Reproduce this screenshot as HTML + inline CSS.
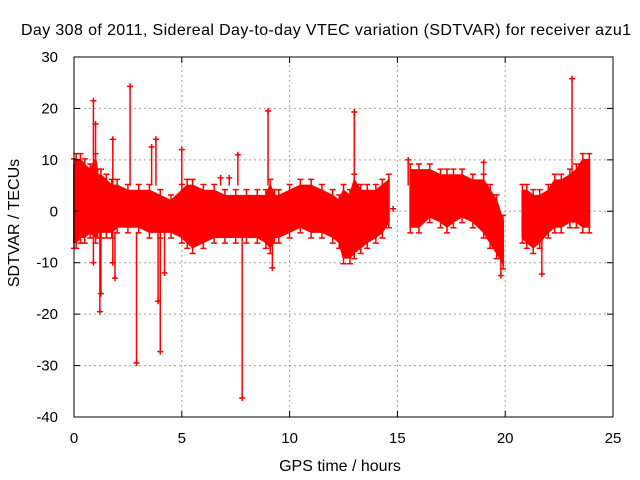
<!DOCTYPE html>
<html><head><meta charset="utf-8"><style>
html,body{margin:0;padding:0;background:#fff;}
svg{display:block;font-family:"Liberation Sans",sans-serif;}
</style></head><body>
<svg id="chart" width="640" height="480">
<text x="326" y="35" font-size="16" text-anchor="middle" textLength="610">Day 308 of 2011, Sidereal Day-to-day VTEC variation (SDTVAR) for receiver azu1</text>
<g id="grid"></g><g id="data"></g><g id="axes"></g>
<text x="340" y="471" font-size="16" text-anchor="middle">GPS time / hours</text>
<text transform="translate(19,223) rotate(-90)" font-size="16" text-anchor="middle">SDTVAR / TECUs</text>
</svg>
<script>
const times=[0,0.1,0.3,0.5,0.75,1.0,1.1,1.25,1.5,1.75,2,2.5,3,3.5,4,4.5,5,5.25,5.5,6,6.5,7,7.5,8,8.5,8.9,9.1,9.3,9.5,10,10.5,11,11.5,12,12.3,12.5,12.8,13,13.3,13.6,14,14.3,14.6,null,15.6,16,16.5,17,17.3,17.6,18,18.5,19,19.3,19.6,19.9,null,20.8,21,21.3,21.6,22,22.3,22.6,23,23.3,23.6,23.9];
const upper=[9,10,10,9,8,10,7,7,6,5,5,4,4,4,3,2,4,5,5,4,4,3,3,3,3,3,5,3,3,4,5,5,4,3,2,4,3,6,4,4,4,5,6,null,8,8,8,7,7,7,7,6,6,4,2,-2,null,4,4,3,3,4,6,6,7,8,10,10];
const lower=[-6,-6,-5,-5,-4,-5,-4,-4,-4,-4,-3,-3,-3,-4,-4,-4,-5,-6,-7,-6,-5,-5,-5,-5,-5,-6,-7,-5,-5,-4,-3,-4,-4,-5,-6,-9,-9,-8,-7,-6,-5,-4,-2,null,-3,-3,-1,-2,-3,-2,-1,-2,-4,-6,-8,-10,null,-5,-6,-7,-6,-4,-3,-3,-2,-2,-3,-3];
const outX=[0.9,2.6,23.1,13.0,9.0,0.9,1.2,1.25,1.9,1.8,2.9,4.0,3.9,7.8,21.7,19.8,4.2,1.0,3.8,3.6,5.0,7.6,1.8,9.2,19.0,14.8,15.5,7.2,6.8];
const outY=[21.5,24.3,25.8,19.3,19.5,-10,-19.5,-16,-13,-10,-29.5,-27.3,-17.5,-36.3,-12.2,-12.5,-12,17,14,12.5,12,11,14,-11,9.5,0.5,10,6.5,6.5];
const xTicks=[0,5,10,15,20,25];
const yTicks=[-40,-30,-20,-10,0,10,20,30];
const X0=74,X1=613,Y0=417,Y1=57;
const sx=v=>X0+(v-0)/25*(X1-X0);
const sy=v=>Y0-(v+40)/70*(Y0-Y1);
const NS="http://www.w3.org/2000/svg";
function mk(t,a,p){const e=document.createElementNS(NS,t);for(const k in a)e.setAttribute(k,a[k]);p.appendChild(e);return e;}
const grid=document.getElementById('grid'),data=document.getElementById('data'),axes=document.getElementById('axes');
xTicks.forEach(t=>{const x=sx(t);
 if(t>0&&t<25){const l=mk('line',{x1:x,x2:x,y1:Y0,y2:Y1,stroke:'#a0a0a0','stroke-dasharray':'2,3'},grid);
 
 }
 const tl=mk('text',{x:x,y:Y0+26,'font-size':15,'text-anchor':'middle'},axes);tl.textContent=t;
 
 
 mk('line',{x1:x,x2:x,y1:Y0,y2:Y0-6,stroke:'#000'},axes);mk('line',{x1:x,x2:x,y1:Y1,y2:Y1+6,stroke:'#000'},axes);});
yTicks.forEach(t=>{const y=sy(t);
 if(t>-40&&t<30){const l=mk('line',{x1:X0,x2:X1,y1:y,y2:y,stroke:'#a0a0a0','stroke-dasharray':'2,3'},grid);
 
 }
 const tl=mk('text',{x:X0-16,y:y+5,'font-size':15,'text-anchor':'end'},axes);tl.textContent=t;
 
 
 mk('line',{x1:X0,x2:X0+6,y1:y,y2:y,stroke:'#000'},axes);mk('line',{x1:X1,x2:X1-6,y1:y,y2:y,stroke:'#000'},axes);});
const fr=mk('rect',{x:X0,y:Y1,width:X1-X0,height:Y0-Y1,fill:'none',stroke:'#000'},axes);


let seg=[];
function flush(){
 if(seg.length<2){seg=[];return;}
 const top=seg.map(i=>sx(times[i])+','+sy(upper[i]));
 const bot=seg.slice().reverse().map(i=>sx(times[i])+','+sy(lower[i]));
 const p=mk('polygon',{points:top.concat(bot).join(' '),fill:'#ff0000',stroke:'#ff0000','stroke-width':2},data);
 
 
 seg=[];}
times.forEach((t,i)=>{if(t===null)flush();else seg.push(i);});
flush();
times.forEach((t,i)=>{if(t===null)return;const x=sx(t);
 const l=mk('path',{d:`M${x},${sy(upper[i]+1.2)}V${sy(lower[i]-1.2)}M${x-3},${sy(upper[i]+1.2)}H${x+3}M${x-3},${sy(lower[i]-1.2)}H${x+3}`,stroke:'#ff0000','stroke-width':1.5,fill:'none'},data);
 
 });
outX.forEach((v,i)=>{const x=sx(v),y=sy(outY[i]);
 const g=mk('path',{d:`M${x-3},${y}H${x+3}M${x},${y-3}V${y+3}`,stroke:'#ff0000','stroke-width':1.5,fill:'none'},data);
 
 
 const near=outY[i]>0?Math.min(outY[i],5):Math.max(outY[i],-4);
 const l=mk('line',{x1:x,x2:x,y1:y,y2:sy(near),stroke:'#ff0000','stroke-width':1.5},data);
 
 });
</script>
</body></html>
